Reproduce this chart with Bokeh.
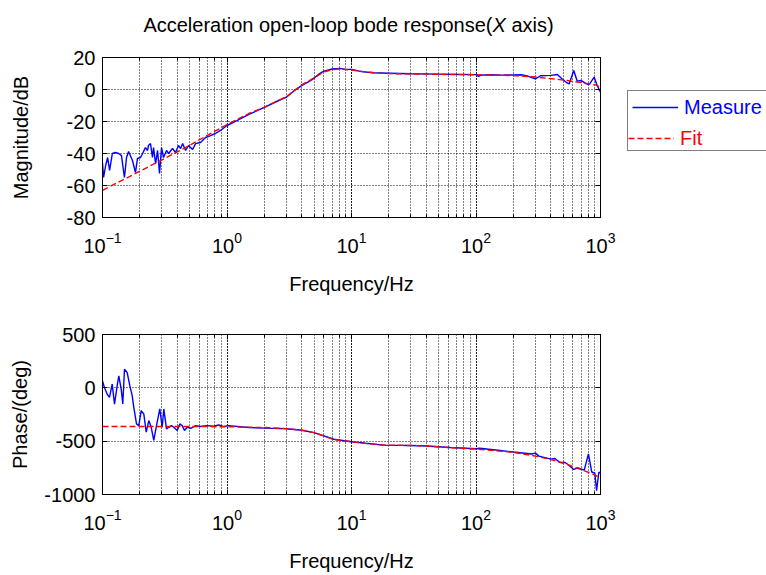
from bokeh.plotting import figure
from bokeh.models import (Range1d, Legend, LegendItem, Label, LogAxis, LinearAxis,
                          CustomJSTickFormatter, FixedTicker, LogTicker)
from bokeh.layouts import column, row
from bokeh.embed import file_html
from bokeh.resources import INLINE

# ---------------- data ----------------
title_parts = ["Acceleration open-loop bode response(", "X", "axis)"]
x_label = "Frequency/Hz"
mag_label = "Magnitude/dB"
phase_label = "Phase/(deg)"
series_names = ["Measure", "Fit"]
mag_ticks = [-80, -60, -40, -20, 0, 20]
phase_ticks = [-1000, -500, 0, 500]
freq_range = [0.1, 1000]
mag_range = [-80, 20]
phase_range = [-1000, 500]

meas_mag_f = [0.100, 0.102, 0.106, 0.110, 0.114, 0.120, 0.127, 0.135, 0.142, 0.150,
              0.156, 0.162, 0.174, 0.184, 0.191, 0.202, 0.210, 0.221, 0.230, 0.234,
              0.243, 0.252, 0.257, 0.267, 0.277, 0.287, 0.298, 0.309, 0.327, 0.339,
              0.365, 0.386, 0.408, 0.424, 0.440, 0.465, 0.491, 0.529, 0.559, 0.613,
              0.672, 0.737, 0.808, 0.886, 1.0, 1.2, 1.5, 2.0, 2.5, 3.0,
              3.5, 4.0, 4.5, 5.0, 5.5, 6.0, 7.0, 8.0, 9.0, 10,
              12, 15, 20, 30, 50, 80, 100, 105, 110, 130,
              160, 200, 230, 260, 300, 330, 400, 450, 490, 530,
              560, 610, 650, 700, 770, 810, 890, 940, 1000]
meas_mag_db = [-46, -55, -47.5, -42.5, -50.6, -40, -39.4, -40, -41.3, -55,
               -42.5, -38.8, -44.4, -51.9, -43.1, -42.5, -40, -36.3, -38.1, -35,
               -33.8, -42.5, -36.3, -46.3, -38.1, -52.5, -36.3, -42.5, -38.1, -40,
               -36.9, -39.4, -35, -36.9, -33.8, -38.1, -35, -37.5, -33.8, -33.1,
               -30, -28.8, -27.5, -25.6, -22.5, -19.5, -15.5, -11.2, -7.5, -4.8,
               -0.5, 2.6, 4.8, 7.0, 9.8, 11.5, 12.8, 13.2, 12.6, 12.6,
               11.2, 10.5, 10.2, 9.8, 9.6, 9.4, 9.3, 8.2, 9.0, 9.2,
               9.0, 9.1, 9.2, 8.4, 6.7, 8.6, 8.8, 9.4, 6.7, 4.5,
               3.5, 11.9, 5.2, 5.6, 3.5, 3.1, 7.7, 2.5, -1.7]

fit_mag_f = [0.1, 0.15, 0.2, 0.3, 0.5, 0.7, 1.0, 1.5, 2.0, 3.0,
             4.0, 5.0, 6.0, 7.0, 8.0, 10, 13, 17, 25, 40,
             60, 100, 150, 200, 300, 400, 540, 700, 900, 1000]
fit_mag_db = [-63, -56, -51, -44, -35, -28.5, -22, -15, -11, -4.5,
              3, 7.2, 11, 12.4, 12.8, 12.2, 11, 10.1, 9.8, 9.6,
              9.4, 9.2, 9.0, 8.7, 7.8, 6.8, 5.6, 4.3, 3.0, 1.6]

meas_ph_f = [0.100, 0.1038, 0.1091, 0.1138, 0.1196, 0.1249, 0.1312, 0.1352, 0.1413, 0.1455,
             0.1502, 0.1579, 0.1657, 0.1732, 0.1784, 0.1876, 0.1957, 0.2046, 0.2146, 0.2244,
             0.2355, 0.2462, 0.2582, 0.2714, 0.2886, 0.3017, 0.3107, 0.3267, 0.3409, 0.3583,
             0.3738, 0.3981, 0.4177, 0.4367, 0.4557, 0.4790, 0.5159, 0.5585, 0.6124, 0.6934,
             0.7834, 0.8594, 0.9425, 1.034, 1.5, 2.0, 3.0, 4.0, 5.0, 6.0,
             7.2, 10, 13, 18, 30, 40, 62, 100, 107, 150,
             200, 280, 300, 320, 400, 430, 470, 520, 550, 610,
             660, 740, 800, 850, 900, 930, 970, 1000]
meas_ph_deg = [65, 0, -60, -90, 35, -152, 20, 112, -12, -152,
               174, 143, 20, -73, -183, -338, -354, -214, -245, -416,
               -307, -370, -493, -354, -198, -370, -198, -385, -370, -354,
               -370, -400, -338, -354, -400, -370, -379, -354, -363, -354,
               -360, -348, -363, -354, -372, -378, -383, -398, -420, -450,
               -482, -505, -520, -537, -540, -545, -560, -571, -566, -585,
               -602, -620, -612, -640, -668, -662, -697, -700, -721, -765,
               -750, -772, -619, -789, -798, -965, -789, -800]

fit_ph_f = [0.1, 0.5, 1.0, 2.0, 3.0, 4.0, 5.0, 6.0, 7.0, 8.0,
            10, 13, 18, 30, 40, 60, 100, 200, 300, 400,
            540, 730, 900, 1000]
fit_ph_deg = [-362, -362, -365, -372, -382, -398, -420, -452, -478, -493,
              -505, -521, -536, -541, -545, -560, -574, -605, -640, -672,
              -718, -775, -815, -850]

# ---------------- style ----------------
FONT = "Liberation Sans"
FS = "20px"
BLUE = "#0000FF"
RED = "#FF0000"
DASH = "6 3"
LW = 1.4
LEFT_W = 624


def make_fig(height, top, bottom, yr, yticks, ylabel, y_std, x_std):
    p = figure(width=LEFT_W, height=height, x_axis_type="log",
               x_range=Range1d(freq_range[0], freq_range[1]),
               y_range=Range1d(yr[0], yr[1]),
               output_backend="svg", toolbar_location=None,
               min_border_left=102, min_border_right=24,
               min_border_top=top, min_border_bottom=bottom)
    p.outline_line_color = "black"
    p.outline_line_width = 1
    p.background_fill_color = "white"
    p.border_fill_color = "white"

    for g in (p.xgrid, p.ygrid):
        g.grid_line_color = "black"
        g.grid_line_dash = "1 2"
        g.grid_line_alpha = 1.0
    p.xgrid.minor_grid_line_color = "black"
    p.xgrid.minor_grid_line_dash = "1 2"
    p.xgrid.minor_grid_line_alpha = 1.0

    xa = p.xaxis[0]
    xa.axis_label = x_label
    xa.axis_label_text_font = FONT
    xa.axis_label_text_font_size = FS
    xa.axis_label_text_font_style = "normal"
    xa.axis_label_text_color = "black"
    xa.axis_label_standoff = x_std
    xa.major_label_text_font = FONT
    xa.major_label_text_font_size = FS
    xa.major_label_text_color = "black"
    xa.major_label_standoff = 14
    xa.major_tick_in = 5
    xa.major_tick_out = 0
    xa.minor_tick_in = 3
    xa.minor_tick_out = 0
    xa.axis_line_color = "black"
    xa.major_tick_line_color = "black"
    xa.minor_tick_line_color = "black"

    ya = p.yaxis[0]
    ya.ticker = FixedTicker(ticks=yticks)
    ya.major_label_overrides = {t: str(t) for t in yticks}
    ya.axis_label = ylabel
    ya.axis_label_text_font = FONT
    ya.axis_label_text_font_size = FS
    ya.axis_label_text_font_style = "normal"
    ya.axis_label_text_color = "black"
    ya.axis_label_standoff = y_std
    ya.major_label_text_font = FONT
    ya.major_label_text_font_size = FS
    ya.major_label_text_color = "black"
    ya.major_label_standoff = 7
    ya.major_tick_in = 5
    ya.major_tick_out = 0
    ya.minor_tick_line_color = None
    ya.axis_line_color = "black"
    ya.major_tick_line_color = "black"
    p.ygrid.ticker = FixedTicker(ticks=yticks)

    top_ax = LogAxis(ticker=LogTicker(), formatter=CustomJSTickFormatter(code="return ''"),
                     major_tick_in=5, major_tick_out=0, minor_tick_in=3, minor_tick_out=0,
                     major_label_standoff=0, axis_line_color="black",
                     major_tick_line_color="black", minor_tick_line_color="black")
    p.add_layout(top_ax, "above")
    right_ax = LinearAxis(ticker=FixedTicker(ticks=yticks),
                          formatter=CustomJSTickFormatter(code="return ''"),
                          major_tick_in=5, major_tick_out=0, minor_tick_line_color=None,
                          major_label_standoff=0, axis_line_color="black",
                          major_tick_line_color="black")
    p.add_layout(right_ax, "right")
    return p


def blank_fig(width, height):
    f = figure(width=width, height=height, output_backend="svg", toolbar_location=None,
               x_range=Range1d(0, 1), y_range=Range1d(0, 1),
               x_axis_location=None, y_axis_location=None, min_border=0)
    f.grid.visible = False
    f.outline_line_color = None
    f.background_fill_color = "white"
    f.border_fill_color = "white"
    return f


# ---------------- title ----------------
pt = blank_fig(LEFT_W, 40)
title_y = 16
title_x = 390
pt.add_layout(Label(x=title_x, y=title_y, x_units="screen", y_units="screen",
                    text=title_parts[0], text_align="right", text_baseline="alphabetic",
                    text_font=FONT, text_font_size=FS, text_color="black"))
pt.add_layout(Label(x=title_x, y=title_y, x_units="screen", y_units="screen",
                    text=title_parts[1], text_align="left", text_baseline="alphabetic",
                    text_font=FONT, text_font_size=FS, text_font_style="italic",
                    text_color="black"))
pt.add_layout(Label(x=title_x + 19, y=title_y, x_units="screen", y_units="screen",
                    text=title_parts[2], text_align="left", text_baseline="alphabetic",
                    text_font=FONT, text_font_size=FS, text_color="black"))

# ---------------- magnitude ----------------
p1 = make_fig(260, 17, 83, mag_range, mag_ticks, mag_label, 32, 17)
p1.line(meas_mag_f, meas_mag_db, line_color=BLUE, line_width=LW)
p1.line(fit_mag_f, fit_mag_db, line_color=RED, line_width=LW, line_dash=DASH)

# ---------------- phase ----------------
p2 = make_fig(275, 34, 81, phase_range, phase_ticks, phase_label, 10, 17)
p2.line(meas_ph_f, meas_ph_deg, line_color=BLUE, line_width=LW)
p2.line(fit_ph_f, fit_ph_deg, line_color=RED, line_width=LW, line_dash=DASH)

# ---------------- legend ----------------
pl = blank_fig(766 - LEFT_W, 160)
off_range = [-2, -1]   # legend-only renderers, kept outside the visible range
lm = pl.line(off_range, off_range, line_color=BLUE, line_width=LW)
lf = pl.line(off_range, off_range, line_color=RED, line_width=LW, line_dash=DASH)
lx = pl.line(off_range, off_range, line_alpha=0)
leg_common = dict(label_text_font=FONT, label_text_font_size=FS,
                  glyph_width=46, glyph_height=24, label_height=24,
                  label_standoff=6, spacing=3, margin=0)
leg1 = Legend(items=[LegendItem(label=series_names[0], renderers=[lm]),
                     LegendItem(label=" ", renderers=[lx])],
              location=(3, 9), padding=4, label_width=120,
              label_text_color=BLUE, border_line_color="black", border_line_width=1,
              background_fill_color="white", background_fill_alpha=1, **leg_common)
leg2 = Legend(items=[LegendItem(label=series_names[1], renderers=[lf])],
              location=(4, 10), padding=3,
              label_text_color=RED, border_line_color=None,
              background_fill_alpha=0, **leg_common)
pl.add_layout(leg1)
pl.add_layout(leg2)

layout = row(column(pt, p1, p2, spacing=0), pl, spacing=0)
open("out.html", "w").write(file_html(layout, INLINE))
